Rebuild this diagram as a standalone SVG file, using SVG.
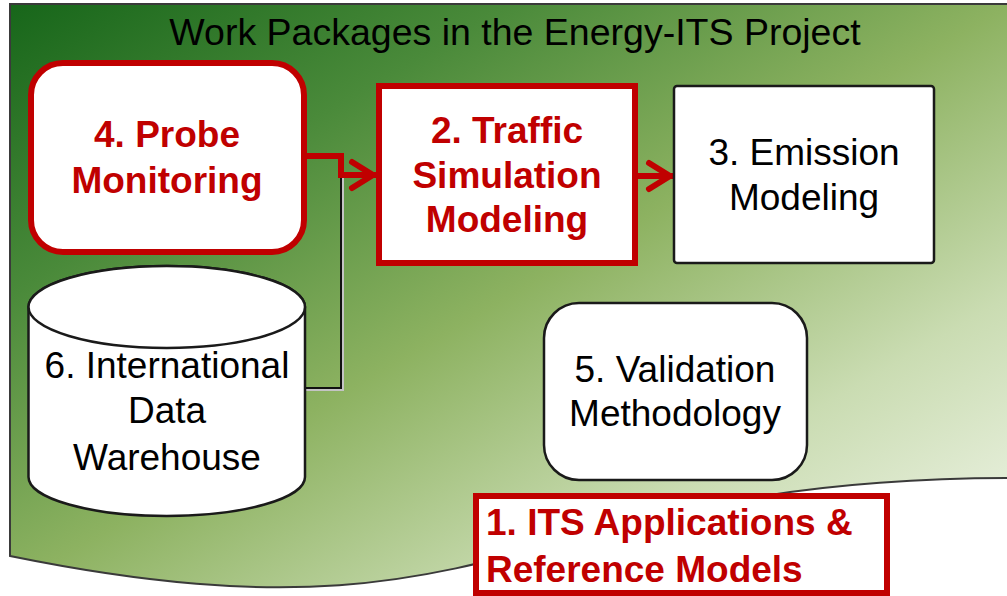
<svg xmlns="http://www.w3.org/2000/svg" width="1007" height="596" viewBox="0 0 1007 596">
<defs>
<linearGradient id="bgGrad" x1="0" y1="0" x2="1" y2="1">
<stop offset="0" stop-color="#17661a"/>
<stop offset="0.25" stop-color="#4a8a3a"/>
<stop offset="0.5" stop-color="#8db261"/>
<stop offset="0.75" stop-color="#cadcb2"/>
<stop offset="1" stop-color="#f3f7ed"/>
</linearGradient>
<marker id="arr" markerUnits="userSpaceOnUse" markerWidth="40" markerHeight="40" viewBox="-30 -20 40 40" refX="0" refY="0" orient="auto" overflow="visible">
<path d="M-24,-13 L-3,0 L-24,13" fill="none" stroke="#c00000" stroke-width="6" stroke-linecap="round" stroke-linejoin="round"/>
</marker>
</defs>
<style>
text{font-family:"Liberation Sans",Arial,sans-serif;font-size:37px;}
.t{fill:#000;text-anchor:middle;}
.r{fill:#c00000;font-weight:bold;text-anchor:middle;}
.rb{fill:#fff;stroke:#c00000;stroke-width:6;}
.bb{fill:#fff;stroke:#1a1a1a;stroke-width:2.5;}
.red{fill:none;stroke:#c00000;stroke-width:6;}
</style>
<rect width="1007" height="596" fill="#fff"/>
<g id="background">
<path d="M10,4 L1012,4 L1012,478 C511,478 511,658 10,556 Z" fill="url(#bgGrad)" stroke="#3a3a3a" stroke-width="2"/>
<text class="t" x="515" y="45" style="font-size:37.5px">Work Packages in the Energy-ITS Project</text>
</g>
<g id="connectors">
<path d="M305,389 H342 V177" fill="none" stroke="#c4c4c4" stroke-width="4"/>
<path d="M305,388 H341 V177" fill="none" stroke="#111" stroke-width="2"/>
<path class="red" d="M307,156 H341 V175 H376" marker-end="url(#arr)"/>
<path class="red" d="M638,176 H673" marker-end="url(#arr)"/>
</g>
<g id="node4">
<rect class="rb" x="31" y="63" width="273" height="189" rx="32"/>
<text class="r" x="167" y="147">4. Probe</text>
<text class="r" x="167" y="193">Monitoring</text>
</g>
<g id="node2">
<rect class="rb" x="379" y="86" width="256" height="177"/>
<text class="r" x="507" y="143">2. Traffic</text>
<text class="r" x="507" y="188">Simulation</text>
<text class="r" x="507" y="232">Modeling</text>
</g>
<g id="node3">
<rect class="bb" x="674" y="86" width="260" height="177" rx="3"/>
<text class="t" x="804" y="165">3. Emission</text>
<text class="t" x="804" y="210">Modeling</text>
</g>
<g id="node6">
<path class="bb" d="M28.5,307 L28.5,477 A138.25,39 0 0 0 305,477 L305,307 A138.25,41 0 0 0 28.5,307 Z"/>
<ellipse class="bb" cx="166.75" cy="307" rx="138.25" ry="41"/>
<text class="t" x="167" y="378">6. International</text>
<text class="t" x="167" y="423">Data</text>
<text class="t" x="167" y="470">Warehouse</text>
</g>
<g id="node5">
<rect class="bb" x="544" y="303" width="263" height="177" rx="35"/>
<text class="t" x="675" y="382">5. Validation</text>
<text class="t" x="675" y="426">Methodology</text>
</g>
<g id="node1">
<rect class="rb" x="476" y="496" width="411" height="97"/>
<text class="r" x="486" y="535" style="text-anchor:start">1. ITS Applications &amp;</text>
<text class="r" x="486" y="582" style="text-anchor:start">Reference Models</text>
</g>
</svg>
